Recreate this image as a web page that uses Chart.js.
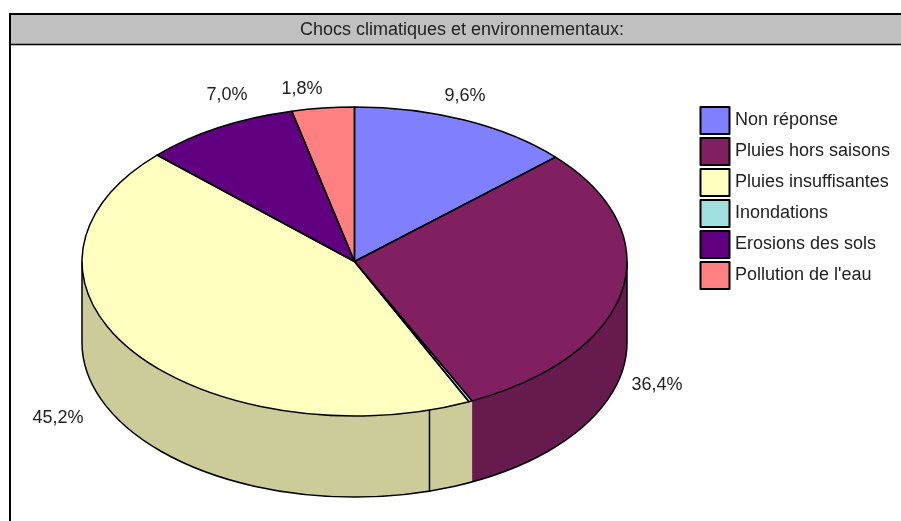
<!DOCTYPE html>
<html>
<head>
<meta charset="utf-8">
<script src="https://cdn.jsdelivr.net/npm/chart.js@4/dist/chart.umd.min.js"></script>
<style>
  html, body { margin: 0; padding: 0; background: #fff; }
  canvas { display: block; }
</style>
</head>
<body>
<canvas id="pieChart" width="901" height="521"></canvas>
<script>
var chartTitle = 'Chocs climatiques et environnementaux:';
var categories = ['Non réponse', 'Pluies hors saisons', 'Pluies insuffisantes', 'Inondations', 'Erosions des sols', 'Pollution de l\'eau'];
// shares as the slices are drawn in the picture (the printed percents below don't follow them exactly)
var sliceShares = [13.2, 29.7, 44.0, 0.2, 9.2, 3.7];
var printedPercents = ['9,6%', '36,4%', '45,2%', '', '7,0%', '1,8%'];
var topColors = ['#8080ff', '#802060', '#ffffc0', '#a0e0e0', '#600080', '#ff8080'];
// the Inondations sliver shows no wall of its own, so it takes the yellow wall
var wallColors = ['#6666cc', '#661a4d', '#cccc9a', '#cccc9a', '#4d0066', '#cc6666'];
// the picture draws the Inondations sliver before Pluies insuffisantes
var drawOrder = [0, 1, 3, 2, 4, 5];

// 3d look
var cx = 354.5, cy = 261.5, rx = 272.5, ry = 154.5, depth = 81;
var seamAngle = 1.292;
// where the percents sit, same order as categories
var percentPos = [[465, 96], [657, 385], [58, 418], null, [227, 95], [302, 89]];

var font = '18px "Liberation Sans", Arial, sans-serif';
var ink = '#222';

function pick(list) { return drawOrder.map(function (i) { return list[i]; }); }
function px(a) { return cx + rx * Math.cos(a); }
function py(a) { return cy + ry * Math.sin(a); }

var pie3d = {
    id: 'pie3d',
    beforeDraw: function (chart) {
        var c = chart.ctx;
        c.save();
        c.fillStyle = '#fff';
        c.fillRect(0, 0, 901, 521);
        c.fillStyle = '#c0c0c0';
        c.fillRect(10, 14, 891, 30);
        c.strokeStyle = '#000';
        c.lineWidth = 2;
        c.beginPath();
        c.moveTo(901, 14);
        c.lineTo(10, 14);
        c.lineTo(10, 521);
        c.stroke();
        c.lineWidth = 1.5;
        c.beginPath();
        c.moveTo(10, 44.5);
        c.lineTo(901, 44.5);
        c.stroke();
        c.fillStyle = ink;
        c.font = font;
        c.textAlign = 'center';
        c.textBaseline = 'middle';
        c.fillText(chartTitle, 462, 30);
        c.restore();
    },
    beforeDatasetsDraw: function (chart) {
        var c = chart.ctx;
        var arcs = chart.getDatasetMeta(0).data;
        var walls = pick(wallColors);
        // wall under the front half of the ellipse
        c.save();
        arcs.forEach(function (arc, i) {
            var a0 = Math.max(arc.startAngle, 0);
            var a1 = Math.min(arc.endAngle, Math.PI);
            if (a1 <= a0) return;
            c.beginPath();
            c.ellipse(cx, cy, rx, ry, 0, a0, a1);
            c.ellipse(cx, cy + depth, rx, ry, 0, a1, a0, true);
            c.closePath();
            c.fillStyle = walls[i];
            c.fill();
        });
        c.strokeStyle = '#000';
        c.lineWidth = 1.5;
        c.beginPath();
        c.moveTo(px(0), py(0));
        c.lineTo(px(0), py(0) + depth);
        c.ellipse(cx, cy + depth, rx, ry, 0, 0, Math.PI);
        c.lineTo(px(Math.PI), py(Math.PI));
        c.moveTo(px(seamAngle), py(seamAngle));
        c.lineTo(px(seamAngle), py(seamAngle) + depth);
        c.stroke();
        c.restore();
        // squash the library's circle into the ellipse
        var first = arcs[0];
        var r = first.outerRadius;
        c.save();
        c.translate(cx, cy);
        c.scale(rx / r, ry / r);
        c.translate(-first.x, -first.y);
    },
    afterDatasetsDraw: function (chart) {
        var c = chart.ctx;
        c.restore();
        c.save();
        c.strokeStyle = '#000';
        c.lineWidth = 1.5;
        c.lineJoin = 'round';
        chart.getDatasetMeta(0).data.forEach(function (arc) {
            c.beginPath();
            c.moveTo(cx, cy);
            c.ellipse(cx, cy, rx, ry, 0, arc.startAngle, arc.endAngle);
            c.closePath();
            c.stroke();
        });
        c.font = font;
        c.fillStyle = ink;
        c.textAlign = 'center';
        c.textBaseline = 'middle';
        printedPercents.forEach(function (txt, i) {
            if (txt) c.fillText(txt, percentPos[i][0], percentPos[i][1]);
        });
        // legend
        categories.forEach(function (name, i) {
            var y = 107 + i * 31;
            c.fillStyle = topColors[i];
            c.fillRect(700.5, y, 29, 27);
            c.lineWidth = 2;
            c.strokeRect(700.5, y, 29, 27);
            c.fillStyle = ink;
            c.textAlign = 'left';
            c.fillText(name, 735, y + 13);
        });
        c.restore();
    }
};

var ctxP = document.getElementById('pieChart').getContext('2d');
var pieChart = new Chart(ctxP, {
    type: 'pie',
    data: {
        labels: pick(categories),
        datasets: [{
            data: pick(sliceShares),
            backgroundColor: pick(topColors),
            borderWidth: 0
        }]
    },
    options: {
        responsive: false,
        animation: false,
        plugins: {
            legend: { display: false },
            tooltip: { enabled: false }
        }
    },
    plugins: [pie3d]
});
</script>
</body>
</html>
